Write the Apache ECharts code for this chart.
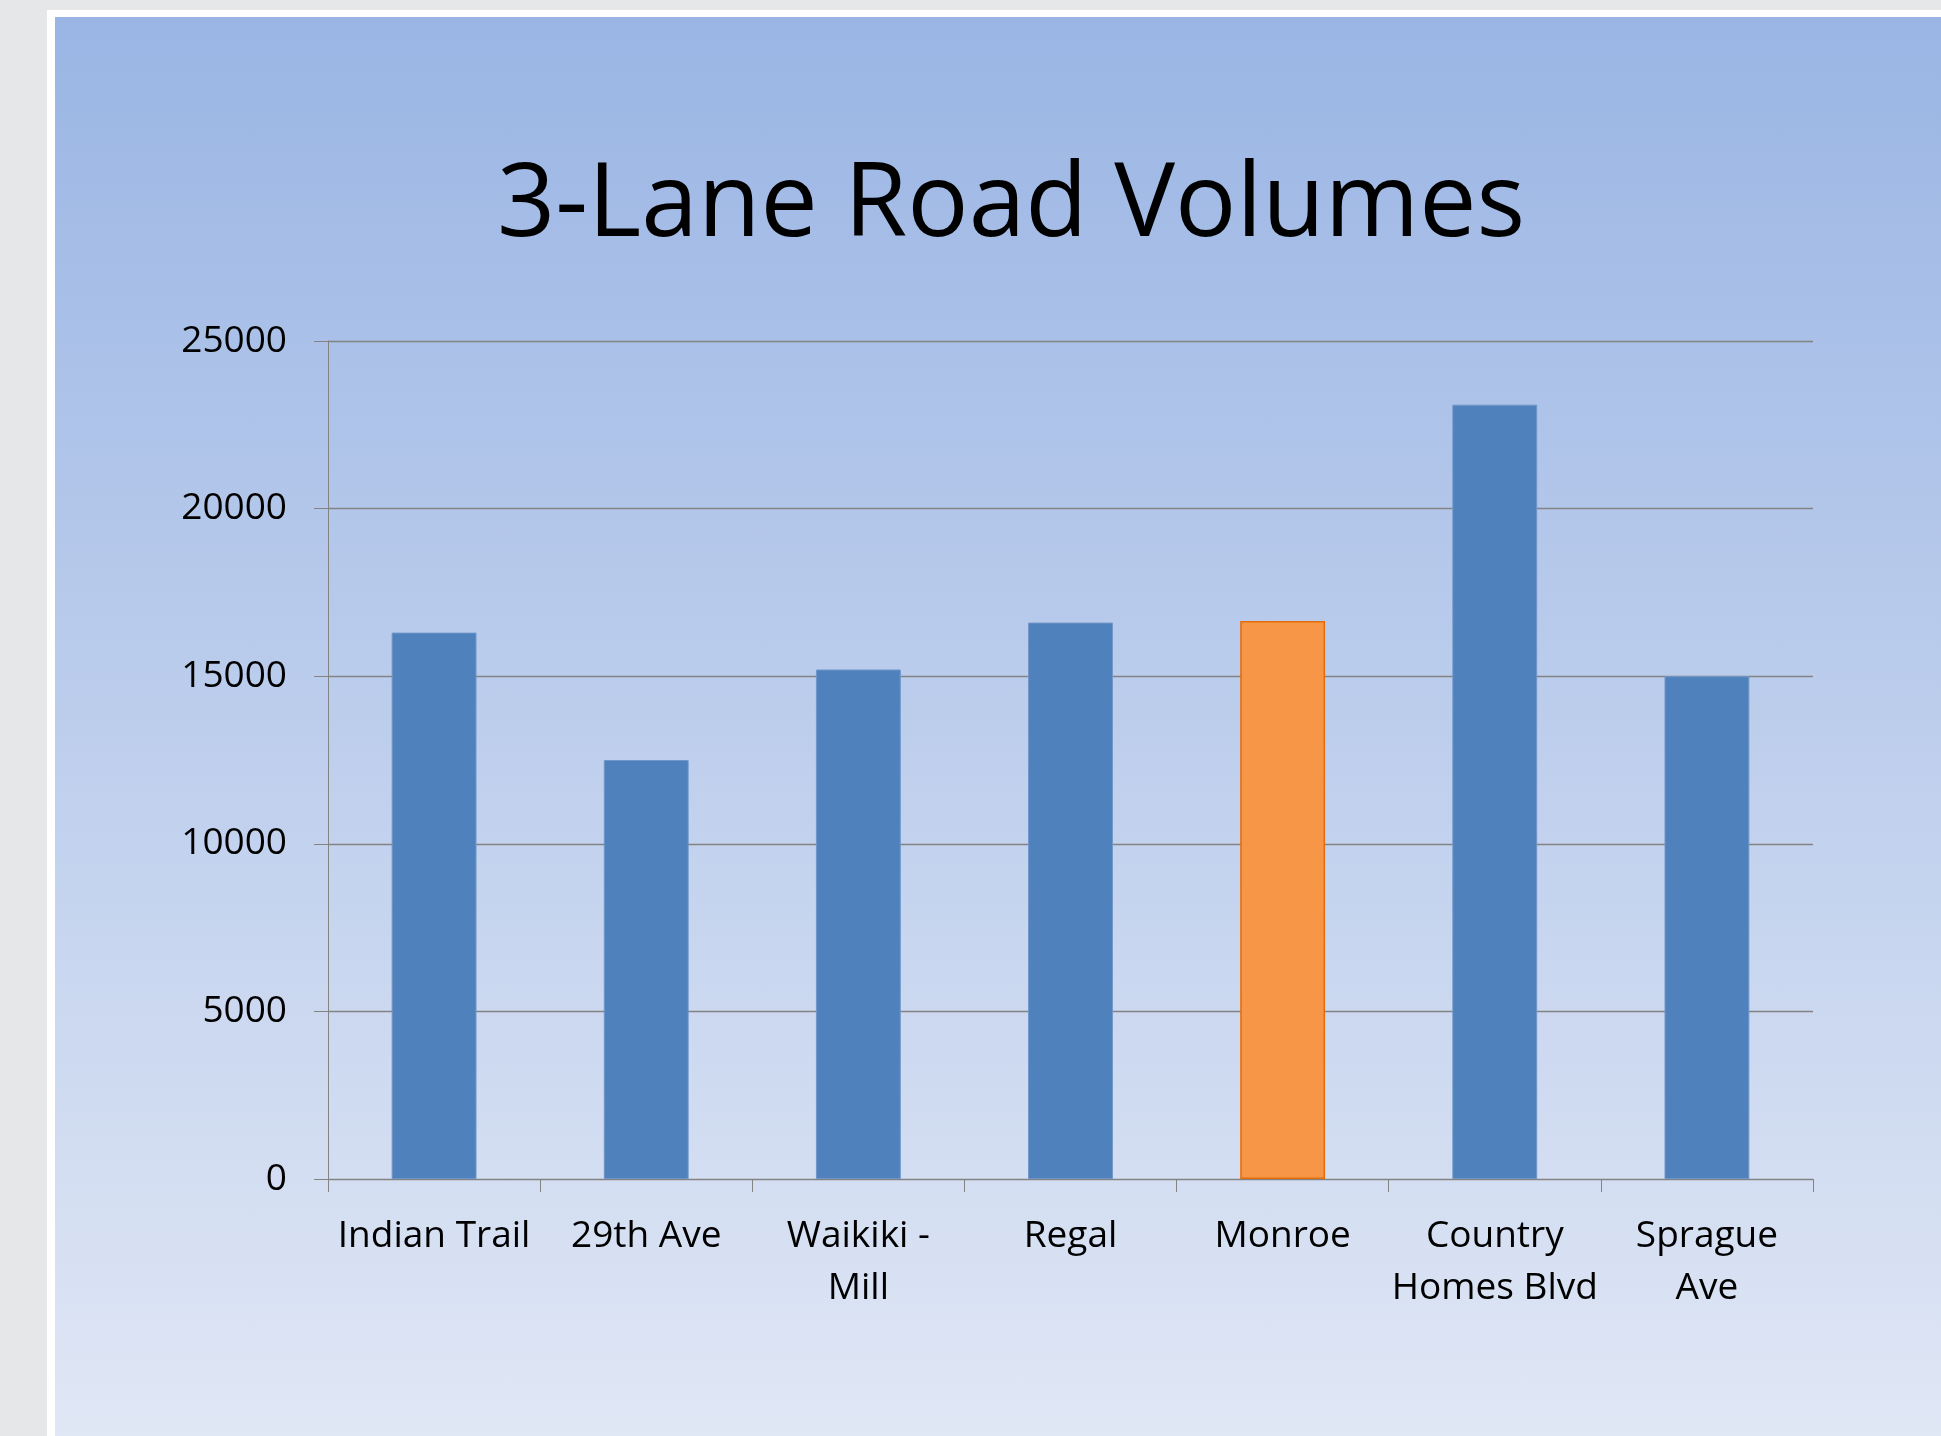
<!DOCTYPE html>
<html>
<head>
<meta charset="utf-8">
<script src="https://cdn.jsdelivr.net/npm/echarts@6/dist/echarts.min.js"></script>
<style>
  html, body { margin: 0; padding: 0; width: 1941px; height: 1436px; background: #e6e7e9; overflow: hidden; }
  #frame { position: absolute; left: 47px; top: 10px; right: 0; bottom: 0; background: #ffffff; }
  #chart { position: absolute; left: 55px; top: 17px; width: 1886px; height: 1419px;
           background: linear-gradient(to bottom, #9ab5e4 0%, #e0e7f5 100%); }
</style>
</head>
<body>
<div id="frame"></div>
<div id="chart"></div>
<script>
const titleText = '3-Lane Road Volumes';
const categories = ['Indian Trail', '29th Ave', 'Waikiki -\nMill', 'Regal', 'Monroe', 'Country\nHomes Blvd', 'Sprague\nAve'];
const volumes = [16300, 12500, 15200, 16600, 16650, 23100, 15000];
const highlighted = ['Monroe'];
const yTicks = { min: 0, max: 25000, interval: 5000 };

const blue = '#4f81bd', blueEdge = '#7096c9';
const orange = '#f79646', orangeEdge = '#e46c0a';
const gridGrey = '#838383';
const font = '"Open Sans", "Noto Sans", sans-serif';

const chart = echarts.init(document.getElementById('chart'), null, { renderer: 'canvas' });
chart.setOption({
  backgroundColor: 'transparent',
  animation: false,
  title: {
    text: titleText,
    left: 956,
    textAlign: 'center',
    top: 139,
    padding: 0,
    textStyle: { fontFamily: font, fontSize: 102, fontWeight: 'normal', color: '#000000', lineHeight: 102 }
  },
  grid: { left: 273, top: 324, right: 128, bottom: 257, containLabel: false },
  xAxis: {
    type: 'category',
    data: categories,
    axisLine: { show: true, lineStyle: { color: gridGrey, width: 1 } },
    axisTick: { show: true, length: 13, lineStyle: { color: gridGrey, width: 1 } },
    axisLabel: {
      interval: 0, margin: 31, color: '#000000',
      fontFamily: font, fontSize: 37, lineHeight: 52
    }
  },
  yAxis: {
    type: 'value',
    min: yTicks.min, max: yTicks.max, interval: yTicks.interval,
    axisLine: { show: true, lineStyle: { color: gridGrey, width: 1 } },
    axisTick: { show: true, length: 14, lineStyle: { color: gridGrey, width: 1 } },
    splitLine: { show: true, lineStyle: { color: gridGrey, width: 1.3 } },
    axisLabel: { margin: 41, color: '#000000', fontFamily: font, fontSize: 37,
                 formatter: v => String(v) }
  },
  series: [{
    type: 'bar',
    barCategoryGap: '60%',
    data: volumes.map((v, i) => {
      const hi = highlighted.includes(categories[i]);
      return {
        value: v,
        itemStyle: hi
          ? { color: orange, borderColor: orangeEdge, borderWidth: 1.5 }
          : { color: blue, borderColor: blueEdge, borderWidth: 1 }
      };
    })
  }]
});
</script>
</body>
</html>
